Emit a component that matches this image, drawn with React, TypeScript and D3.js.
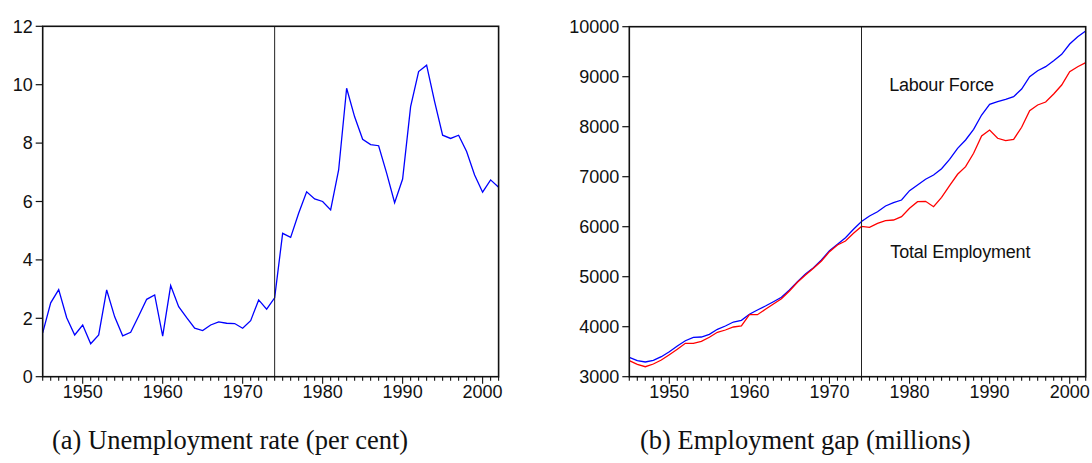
import React from "react";
import * as d3 from "d3";

const years = d3.range(1945, 2003);

// unemployment rate, per cent
const unemployment = [
  1.5, 2.53, 2.98, 2.02, 1.43, 1.77, 1.13, 1.43, 2.97, 2.05,
  1.4, 1.52, 2.08, 2.65, 2.8, 1.39, 3.12, 2.4, 2.02, 1.66,
  1.58, 1.77, 1.88, 1.83, 1.82, 1.66, 1.92, 2.63, 2.31, 2.7,
  4.91, 4.77, 5.6, 6.33, 6.09, 6.0, 5.71, 7.08, 9.88, 8.9,
  8.13, 7.95, 7.91, 6.97, 5.96, 6.77, 9.25, 10.45, 10.67, 9.42,
  8.27, 8.16, 8.27, 7.71, 6.91, 6.32, 6.74, 6.49,
];

const labourForce = [
  3388, 3320, 3294, 3328, 3400, 3500, 3614, 3720, 3788, 3794,
  3848, 3948, 4014, 4094, 4128, 4248, 4334, 4414, 4500, 4588,
  4734, 4900, 5054, 5180, 5334, 5520, 5648, 5780, 5948, 6105,
  6214, 6300, 6414, 6480, 6534, 6720, 6834, 6948, 7034, 7160,
  7348, 7568, 7734, 7948, 8234, 8448, 8500, 8548, 8600, 8754,
  9000, 9120, 9200, 9320, 9448, 9654, 9800, 9914,
];

const totalEmployment = [
  3320, 3248, 3200, 3254, 3334, 3440, 3548, 3668, 3668, 3708,
  3788, 3888, 3934, 3994, 4014, 4240, 4240, 4348, 4454, 4560,
  4714, 4888, 5034, 5168, 5314, 5500, 5634, 5714, 5868, 6005,
  5988, 6068, 6120, 6134, 6200, 6368, 6500, 6508, 6400, 6588,
  6820, 7048, 7200, 7468, 7814, 7934, 7768, 7720, 7748, 7988,
  8320, 8434, 8494, 8654, 8834, 9100, 9200, 9280,
];

const leftTicks = [0, 2, 4, 6, 8, 10, 12];
const rightTicks = [3000, 4000, 5000, 6000, 7000, 8000, 9000, 10000];
const decadeTicks = [1950, 1960, 1970, 1980, 1990, 2000];
const breakYear = 1974;

const rightLabels = [
  { text: "Labour Force", year: 1977.45, value: 8720 },
  { text: "Total Employment", year: 1977.6, value: 5368 },
];

const sans = "'Liberation Sans', Arial, Helvetica, sans-serif";
const serif = "'Liberation Serif', 'Times New Roman', serif";

type Series = { values: number[]; color: string };

const Panel = ({
  x0, x1, y0, y1, domain, yTicks, series, labels = [],
}: {
  x0: number; x1: number; y0: number; y1: number;
  domain: [number, number]; yTicks: number[];
  series: Series[]; labels?: { text: string; year: number; value: number }[];
}) => {
  const xScale = d3.scaleLinear().domain([1945, 2002]).range([x0, x1]);
  const yScale = d3.scaleLinear().domain(domain).range([y0, y1]);

  const line = d3
    .line<number>()
    .x((_, i) => xScale(years[i]))
    .y((d) => yScale(d));

  return (
    <g>
      {/* series */}
      {series.map((s, i) => (
        <path key={i} d={line(s.values) || ""} fill="none" stroke={s.color} strokeWidth={1.3} />
      ))}

      {/* break line */}
      <line x1={xScale(breakYear)} x2={xScale(breakYear)} y1={y1} y2={y0} stroke="#222" strokeWidth={1} />

      {/* frame */}
      <rect x={x0} y={y1} width={x1 - x0} height={y0 - y1} fill="none" stroke="#111" strokeWidth={1.6} />

      {/* y ticks */}
      {yTicks.map((t) => (
        <g key={t}>
          <line x1={x0 - 7} x2={x0} y1={yScale(t)} y2={yScale(t)} stroke="#111" strokeWidth={1.2} />
          <text x={x0 - 10} y={yScale(t)} dy="0.35em" textAnchor="end" fontSize={18} fontFamily={sans} fill="#111">
            {t}
          </text>
        </g>
      ))}

      {/* x ticks */}
      {years.map((yr) => {
        const major = yr % 10 === 0;
        return (
          <line key={yr} x1={xScale(yr)} x2={xScale(yr)} y1={y0} y2={y0 + (major ? 7 : 4)} stroke="#111" strokeWidth={1.1} />
        );
      })}
      {decadeTicks.map((yr) => (
        <text key={yr} x={xScale(yr)} y={y0 + 21} textAnchor="middle" fontSize={18} fontFamily={sans} fill="#111">
          {yr}
        </text>
      ))}

      {labels.map((l) => (
        <text key={l.text} x={xScale(l.year)} y={yScale(l.value)} fontSize={18} fontFamily={sans} fill="#111" letterSpacing={-0.2}>
          {l.text}
        </text>
      ))}
    </g>
  );
};

export default function App() {
  return (
    <svg width={1092} height={463} style={{ position: "absolute", left: 0, top: 0 }}>
      <rect width={1092} height={463} fill="white" />
      <Panel
        x0={42.7} x1={498.6} y0={376.7} y1={26.3}
        domain={[0, 12]} yTicks={leftTicks}
        series={[{ values: unemployment, color: "#0000ff" }]}
      />
      <Panel
        x0={629.3} x1={1085.7} y0={376.7} y1={26.7}
        domain={[3000, 10000]} yTicks={rightTicks}
        series={[
          { values: labourForce, color: "#0000ff" },
          { values: totalEmployment, color: "#ff0000" },
        ]}
        labels={rightLabels}
      />
      <text x={52} y={449} fontSize={26.5} fontFamily={serif} fill="#111">
        (a) Unemployment rate (per cent)
      </text>
      <text x={640} y={449} fontSize={26.5} fontFamily={serif} fill="#111">
        (b) Employment gap (millions)
      </text>
    </svg>
  );
}
